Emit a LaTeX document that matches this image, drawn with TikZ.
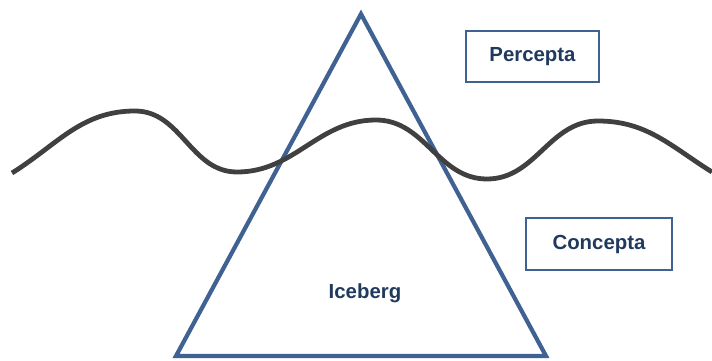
\documentclass[tikz,border=0pt]{standalone}
\usepackage{fontspec}
\setmainfont{Liberation Sans}
\usepackage{tikz}
\usetikzlibrary{positioning,calc}
\definecolor{ice}{HTML}{3F6293}
\definecolor{labeltext}{HTML}{203A5E}
\definecolor{water}{HTML}{404040}

\begin{document}
\begin{tikzpicture}[x=0.025cm, y=0.025cm,
        labelbox/.style={rectangle, draw=ice, line width=2pt, fill=white,
          font=\fontsize{14.5}{17}\selectfont\bfseries, text=labeltext},
        icetext/.style={font=\fontsize{14.5}{17}\selectfont\bfseries, text=labeltext},
        berg/.style={draw=ice, line width=3pt, line join=miter},
        wave/.style={draw=water, line width=3.4pt},
      ]
      \useasboundingbox (0,0) rectangle (712,-361);

      % iceberg
      \coordinate (apex) at (361,-14);
      \coordinate (baseL) at (176,-356);
      \coordinate (baseR) at (546,-356);
      \draw[berg] (apex) -- (baseR) -- (baseL) -- cycle;
      \node[icetext] (iceberg) at (365,-293) {Iceberg};

      % water line
      \coordinate (w0) at (12,-173);
      \coordinate (w1) at (135,-111);
      \coordinate (w2) at (237,-172);
      \coordinate (w3) at (376,-120);
      \coordinate (w4) at (487,-179);
      \coordinate (w5) at (598,-121);
      \coordinate (w6) at (712,-172);
      \draw[wave] (w0) to[out=32,in=180] (w1) to[out=0,in=180] (w2)
        to[out=0,in=180] (w3) to[out=0,in=180] (w4)
        to[out=0,in=180] (w5) to[out=0,in=148] (w6);

      \node[labelbox, minimum width=133*0.025cm, minimum height=51*0.025cm]
        (percepta) at (532.5,-56.5) {Percepta};
      \node[labelbox, minimum width=146*0.025cm, minimum height=52*0.025cm]
        (concepta) at (599,-244) {Concepta};
    \end{tikzpicture}
\end{document}
